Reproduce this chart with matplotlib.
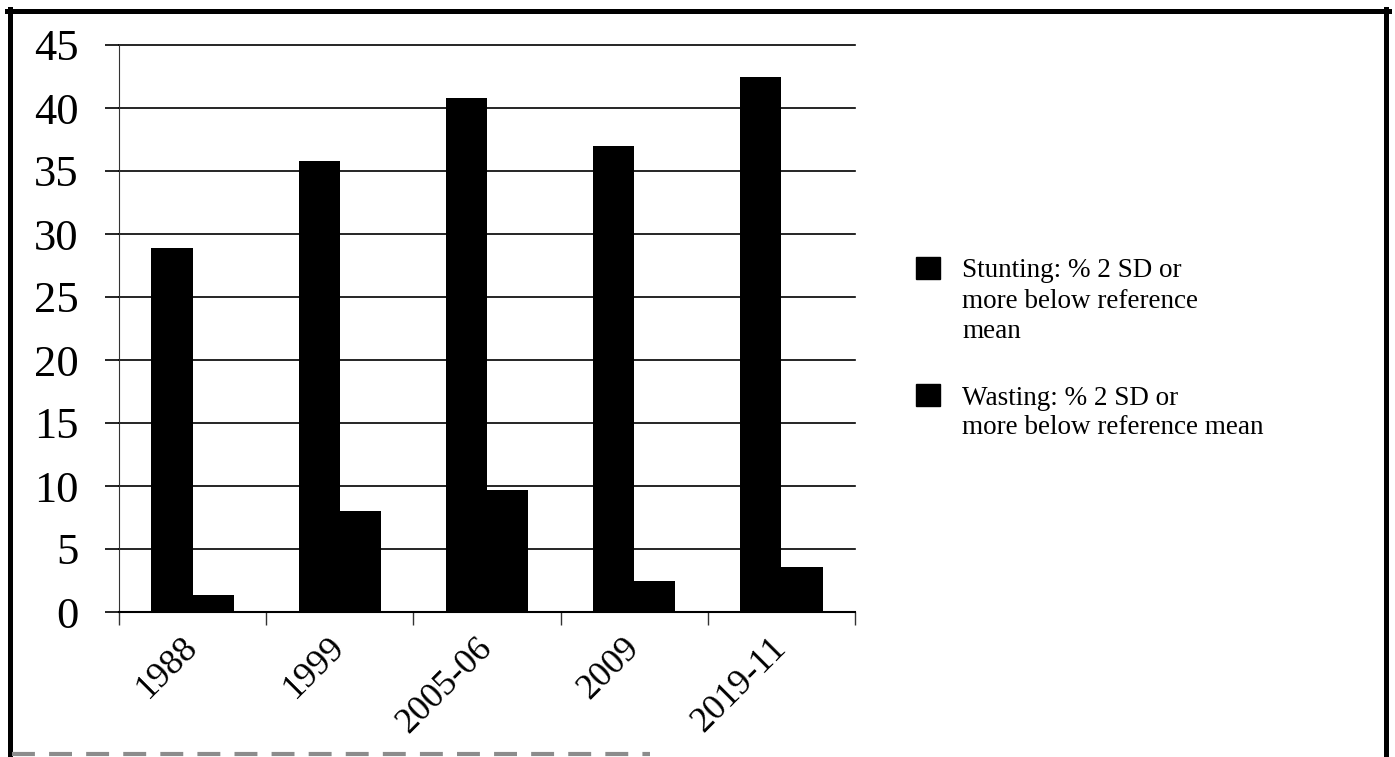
import numpy as np
import matplotlib
matplotlib.use("Agg")
import matplotlib.pyplot as plt
from matplotlib.patches import Rectangle
from matplotlib.lines import Line2D

# data
years = ['1988', '1999', '2005-06', '2009', '2019-11']
stunting = [28.9, 35.8, 40.8, 37.0, 42.5]
wasting = [1.35, 8.0, 9.7, 2.5, 3.6]
stunting_label = ['Stunting: % 2 SD or', 'more below reference', 'mean']
wasting_label = ['Wasting: % 2 SD or', 'more below reference mean']
yticks = list(range(0, 46, 5))

plt.rcParams['font.family'] = ['Liberation Serif', 'DejaVu Serif']

W, H = 1395, 757
fig = plt.figure(figsize=(W / 100, H / 100), dpi=100)


def fx(px):
    return px / W


def fy(py):
    return 1 - py / H


ax = fig.add_axes([fx(119), fy(612), fx(855 - 119), (612 - 45) / H])

x = np.arange(len(years))
w = 0.28
ax.bar(x - w / 2, stunting, w, color='black', zorder=3)
ax.bar(x + w / 2, wasting, w, color='black', zorder=3)

ax.set_xlim(-0.5, len(years) - 0.5)
ax.set_ylim(0, 45)
ax.set_yticks(yticks)
ax.yaxis.grid(True, color='black', lw=1.2, clip_on=False)
ax.set_axisbelow(True)

for s in ['top', 'right']:
    ax.spines[s].set_visible(False)
ax.spines['left'].set_linewidth(0.8)
ax.spines['left'].set_color('#333333')
ax.spines['bottom'].set_linewidth(1.5)

ax.tick_params(axis='y', length=10, width=1.2, pad=19, labelsize=32,
               direction='out')

# category labels at centres, tick marks at boundaries
ax.set_xticks(x)
ax.set_xticklabels(years, rotation=45, ha='right', va='center',
                   rotation_mode='anchor', fontsize=26)
ax.tick_params(axis='x', which='major', length=0, pad=22)
ax.set_xticks(np.arange(-0.5, len(years)), minor=True)
ax.tick_params(axis='x', which='minor', length=9.5, width=1.0,
               direction='out', color='#333333')

# legend drawn by hand: square beside the first line of each entry
legend = [(268, stunting_label), (395, wasting_label)]
for mid, lines in legend:
    fig.add_artist(Rectangle((fx(916), fy(mid + 11)), fx(24), 22 / H,
                             transform=fig.transFigure, color='black'))
    for i, line in enumerate(lines):
        fig.text(fx(962), fy(mid + 30 * i), line, va='center_baseline',
                 ha='left', fontsize=19.5)

# scanned frame around the figure
frame = dict(transform=fig.transFigure, color='black', lw=3.6)
fig.add_artist(Line2D([fx(7), fx(1389)], [fy(11), fy(11)], **frame))
fig.add_artist(Line2D([fx(10), fx(10)], [fy(9), fy(757)], **frame))
fig.add_artist(Line2D([fx(1386), fx(1386)], [fy(9), fy(757)], **frame))
fig.add_artist(Line2D([fx(12), fx(650)], [fy(754), fy(754)],
                      transform=fig.transFigure, color='#8c8c8c', lw=3,
                      linestyle=(0, (5.5, 3.4))))

fig.savefig('out.png', dpi=100, facecolor='white')
